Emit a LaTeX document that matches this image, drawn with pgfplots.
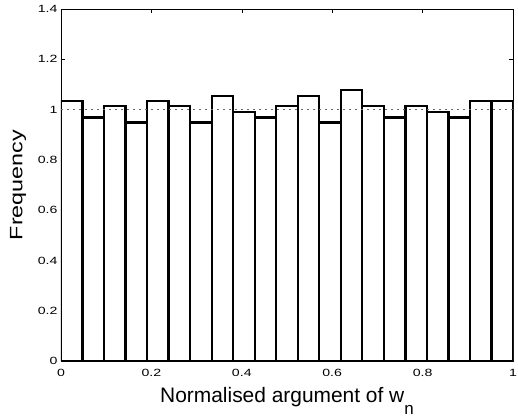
\documentclass[border=0pt]{standalone}
\usepackage{pgfplots}
\pgfplotsset{compat=1.18}
\usepackage{fontspec}
\setmainfont{Liberation Sans}
\newfontfamily\tickfont[FakeStretch=1.35]{Liberation Sans}
\newfontfamily\ylabfont[FakeStretch=1.3]{Liberation Sans}
\definecolor{dotred}{RGB}{255,40,40}
\begin{document}
\begin{tikzpicture}
\begin{axis}[
  name=ax,
  scale only axis,
  width=452bp, height=352bp,
  xmin=0, xmax=1, ymin=0, ymax=1.4,
  xtick={0,0.2,0.4,0.6,0.8,1},
  ytick={0,0.2,0.4,0.6,0.8,1,1.2,1.4},
  xticklabels={0,0.2,0.4,0.6,0.8,1},
  yticklabels={0,0.2,0.4,0.6,0.8,1,1.2,1.4},
  tick align=inside,
  major tick length=4bp,
  tick style={black, line width=0.5pt},
  axis line style={line width=0.7pt},
  ticklabel style={font=\tickfont\fontsize{10.5}{12}\selectfont},
  xticklabel style={anchor=north, yshift=-5bp},
  yticklabel style={anchor=east, xshift=0bp},
  xlabel={Normalised argument of w\raisebox{-12bp}{\fontsize{17}{19}\selectfont n}},
  ylabel={Frequency},
  xlabel style={font=\fontsize{21}{24}\selectfont, at={(axis description cs:0.5,-0.1165)}, anchor=base},
  ylabel style={font=\ylabfont\fontsize{18}{21}\selectfont, at={(axis description cs:-0.095,0.5)}, anchor=center},
]
\addplot[ybar interval, fill=white, draw=black, line width=2.3pt] coordinates {
(0.000000,1.034) (0.047619,0.969) (0.095238,1.013) (0.142857,0.948)
(0.190476,1.034) (0.238095,1.013) (0.285714,0.948) (0.333333,1.055)
(0.380952,0.991) (0.428571,0.969) (0.476190,1.013) (0.523810,1.055)
(0.571429,0.948) (0.619048,1.077) (0.666667,1.013) (0.714286,0.969)
(0.761905,1.013) (0.809524,0.991) (0.857143,0.969) (0.904762,1.034)
(0.952381,1.034) (1.000000,1.034)
};
\addplot[color=dotred, solid, line width=1.6pt, dash pattern=on 1.6bp off 4.4bp, mark=none] table {
x y
0 1
1 1
};
\end{axis}
\pgfresetboundingbox
\path[use as bounding box] ([shift={(-61bp,-56bp)}]ax.south west) rectangle ([shift={(5bp,9bp)}]ax.north east);
\end{tikzpicture}
\end{document}
